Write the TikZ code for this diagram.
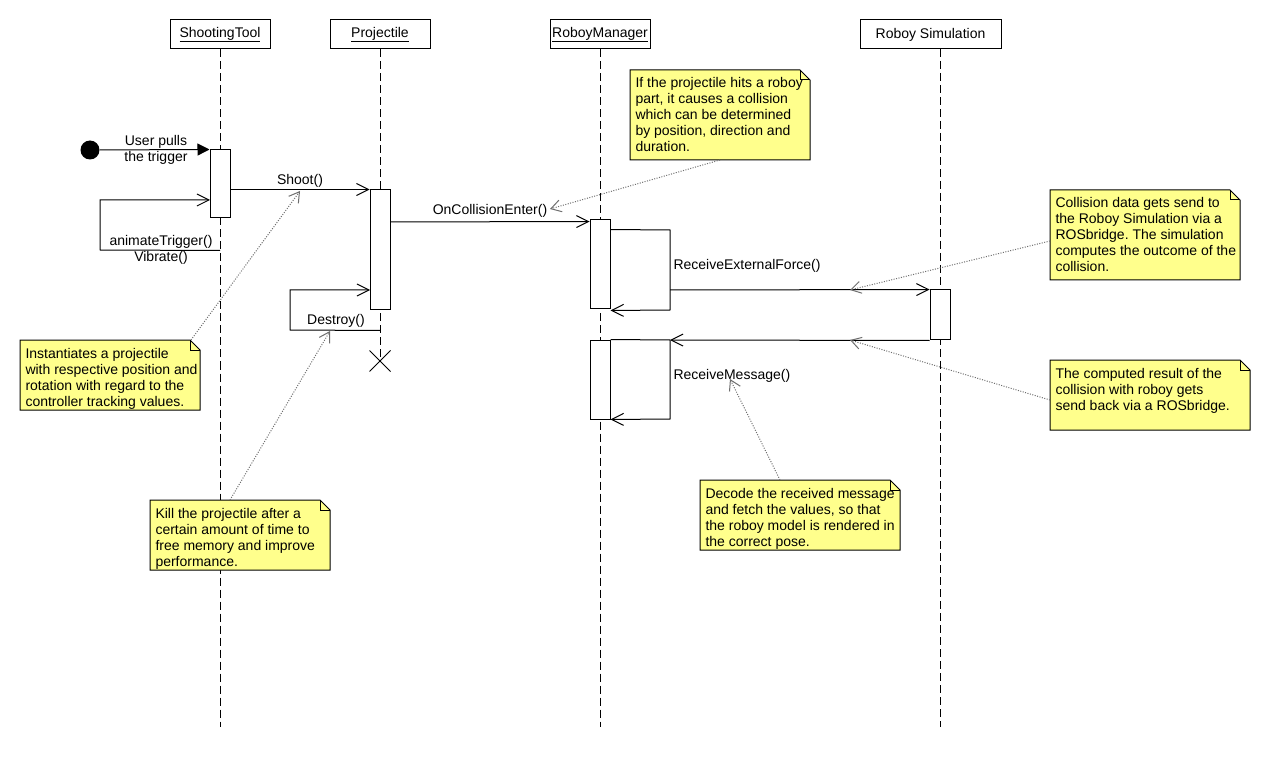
\documentclass[tikz,border=0pt]{standalone}
\usepackage{fontspec}
\setmainfont{Liberation Sans}
\usetikzlibrary{arrows.meta,calc,shapes.misc}
\frenchspacing
\definecolor{noteyellow}{RGB}{255,255,140}
\definecolor{linkgray}{RGB}{110,110,110}
\newcommand\umlnote[6]{%
  \node[minimum width=#4pt, minimum height=#5pt, anchor=north west, inner sep=0pt] (#1) at (#2,#3) {};
  \filldraw[fill=noteyellow, draw=black] (#1.north west) -- ($(#1.north east)+(-10,0)$) -- ($(#1.north east)+(0,10)$) -- (#1.south east) -- (#1.south west) -- cycle;
  \draw ($(#1.north east)+(-10,0)$) -- ($(#1.north east)+(-10,10)$) -- ($(#1.north east)+(0,10)$);
  \node[notetext] (#1t) at ($(#1.north west)+(5,6.3)$) {\strut #6};
}
\begin{document}
\begin{tikzpicture}[x=1pt,y=-1pt,line width=1pt,
  every node/.style={font=\fontsize{14}{16}\selectfont},
  head/.style={draw, fill=white, minimum height=29pt, inner sep=0pt},
  lifeline/.style={dash pattern=on 8pt off 4pt},
  act/.style={draw, fill=white, minimum width=20pt, inner sep=0pt},
  msg/.style={-{Straight Barb[length=12pt,width=12pt,line width=1pt]}},
  initmsg/.style={-{Triangle[length=12pt,width=12pt]}},
  notelink/.style={draw=linkgray, dash pattern=on 1pt off 1.5pt, -{Straight Barb[length=10pt,width=12pt,line width=1pt]}},
  lbl/.style={inner sep=0pt, align=center},
  notetext/.style={inner sep=0pt, align=left, anchor=north west}]
\useasboundingbox (0,0) rectangle (1270,770);
\fill[white] (0,0) rectangle (1270,770);

% lifeline heads
\node[head, minimum width=100pt] (st) at (220,34.5) {\underline{ShootingTool}};
\node[head, minimum width=100pt] (pr) at (380,34.5) {\underline{Projectile}};
\node[head, minimum width=100pt] (rm) at (600,34.5) {\underline{RoboyManager}};
\node[head, minimum width=141pt] (rs) at (930.5,34.5) {Roboy Simulation};

% ends of lifelines
\coordinate (stend) at (220,727);
\coordinate (rmend) at (600,727);
\coordinate (rsend) at (940,727);
\node[cross out, draw, minimum size=20pt, inner sep=0pt] (prend) at (380,361) {};

\draw[lifeline] (st.south) -- (stend);
\draw[lifeline] (pr.south) -- (prend.center);
\draw[lifeline] (rm.south) -- (rmend);
\draw[lifeline] (940,49) -- (rsend);

% activations
\node[act, minimum height=68pt] (a1) at (220,184) {};
\node[act, minimum height=120pt] (a2) at (380,250) {};
\node[act, minimum height=89pt] (a3) at (600,264.5) {};
\node[act, minimum height=79pt] (a4) at (600,379.5) {};
\node[act, minimum height=49pt] (a5) at (940,314.5) {};

% initial message
\node[circle, fill=black, minimum size=19pt, inner sep=0pt] (start) at (90,150) {};
\draw[initmsg] (start) -- (a1.north west);
\node[lbl] (lpull) at (156,150) {User pulls\\the trigger};

% animateTrigger self message
\draw[msg] ($(a1.south)+(0,32)$) -- (100,250) -- (100,200) -- (210,200);
\node[lbl] (lanim) at (161,250) {animateTrigger()\\Vibrate()};

% Shoot
\draw[msg] (a1.east |- a2.north) -- (a2.north west);
\node[lbl] (lshoot) at (300,181) {Shoot()};
\coordinate (shootpt) at (300,191);

% OnCollisionEnter
\draw[msg] ($(a2.east)+(0,-28)$) -- ($(a3.north west)+(0,2)$);
\node[lbl] (lcoll) at (490,211) {OnCollisionEnter()};
\coordinate (collpt) at (550,209);

% ReceiveExternalForce
\draw[msg] ($(a3.north east)+(0,10)$) -- (670,230) -- (670,310) -- ($(a3.south east)+(0,1)$);
\coordinate (refstart) at (670,290);
\draw[msg] (refstart) -- (a5.north west);
\node[lbl, anchor=west] (lref) at (673,266) {ReceiveExternalForce()};
\coordinate (refpt) at (850,290);

% return message and ReceiveMessage
\coordinate (rmsg) at (670,340);
\draw[msg] ($(a5.south west)+(0,1)$) -- (rmsg);
\draw[msg] (a4.north east) -- (rmsg) -- (670,419) -- (a4.south east);
\node[lbl, anchor=west] (lrmsg) at (673,376) {ReceiveMessage()};
\coordinate (retpt) at (850,340);
\coordinate (rmsgpt) at (730,379);

% Destroy
\draw[msg] ($(a2.south)+(0,20)$) -- (290,330) -- (290,290) -- (370,290);
\node[lbl] (ldestroy) at (336,321) {Destroy()};
\coordinate (destpt) at (330,331);

% notes
\umlnote{n1}{630}{70}{179}{89}{If the projectile hits a roboy\\part, it causes a collision\\which can be determined\\by position, direction and\\duration.}
\umlnote{n2}{1050}{190}{189}{89}{Collision data gets send to\\the Roboy Simulation via a\\ROSbridge. The simulation\\computes the outcome of the\\collision.}
\umlnote{n3}{1050}{360}{199}{69}{The computed result of the\\collision with roboy gets\\send back via a ROSbridge.}
\umlnote{n4}{20}{340}{179}{69}{Instantiates a projectile\\with respective position and\\rotation with regard to the\\controller tracking values.}
\umlnote{n5}{150}{500}{179}{69}{Kill the projectile after a\\certain amount of time to\\free memory and improve\\performance.}
\umlnote{n6}{700}{480}{199}{69}{Decode the received message\\and fetch the values, so that\\the roboy model is rendered in\\the correct pose.}

% note links
\draw[notelink] ($(n1.south west)+(90,0)$) -- (collpt);
\draw[notelink] ($(n2.north west)+(0,51)$) -- (refpt);
\draw[notelink] ($(n3.north west)+(0,40)$) -- (retpt);
\draw[notelink] ($(n4.north east)+(-9,0)$) -- (shootpt);
\draw[notelink] ($(n5.north west)+(80,0)$) -- (destpt);
\draw[notelink] ($(n6.north west)+(80,0)$) -- (rmsgpt);
\end{tikzpicture}
\end{document}
